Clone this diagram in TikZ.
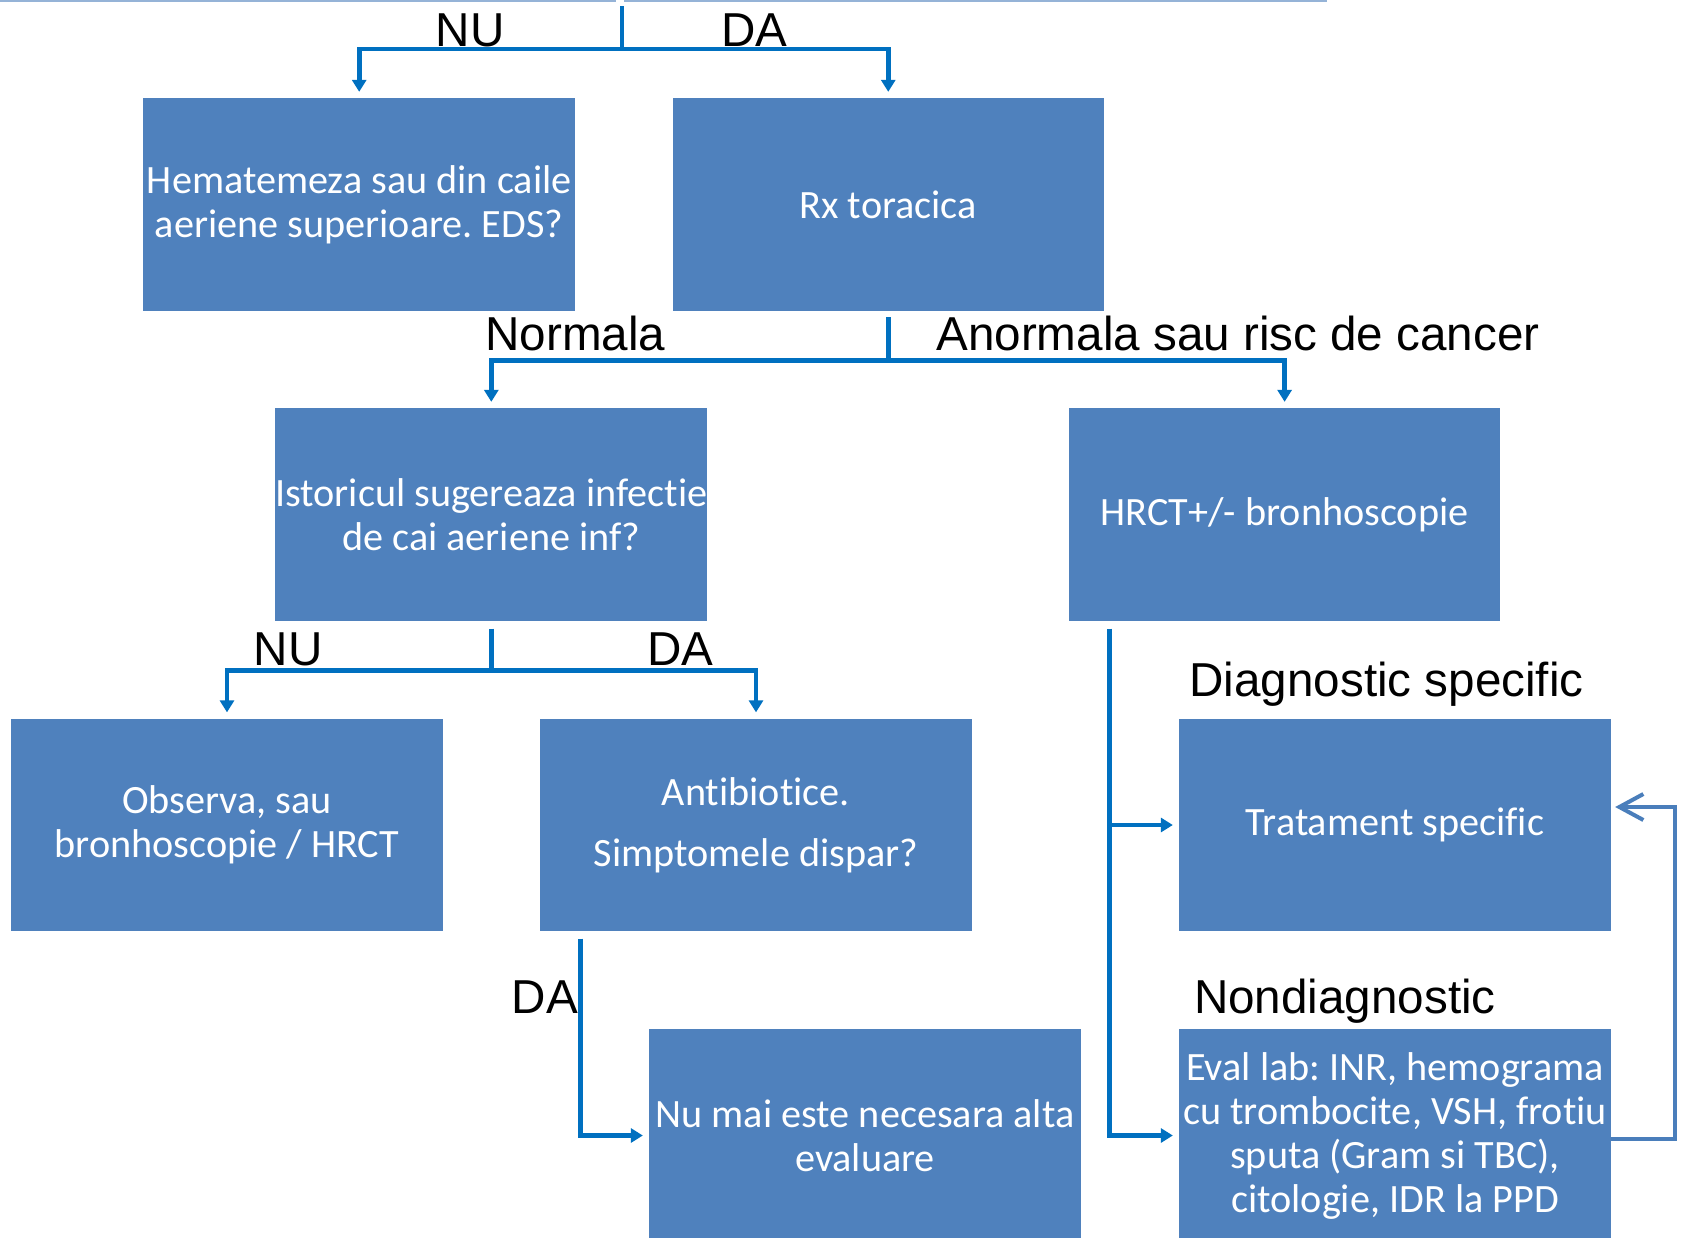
\documentclass[tikz,border=0pt]{standalone}
\usepackage{fontspec}
\setmainfont{Carlito}[Ligatures=NoCommon]
\newfontfamily\labelfont{Liberation Sans}[Ligatures=NoCommon]
\usetikzlibrary{arrows.meta}
\definecolor{boxblue}{HTML}{4F81BD}
\definecolor{linkblue}{HTML}{0070C0}
\definecolor{loopblue}{HTML}{4A7EBB}
\definecolor{ruleblue}{HTML}{95B3D7}
\frenchspacing

\begin{document}
\begin{tikzpicture}[x=0.5pt,y=-0.5pt,
  stepbox/.style={rectangle, fill=boxblue, minimum width=215.75pt,
    minimum height=106.25pt, inner sep=0pt, text=white, align=center,
    font=\fontsize{20.1}{22}\selectfont},
  link/.style={draw=linkblue, line width=2.3pt},
  linkarrow/.style={link, -{Triangle[length=6pt,width=7pt]}, shorten >=3pt},
  branchlabel/.style={anchor=base west, inner sep=0pt,
    font=\labelfont\fontsize{23.8}{28}\selectfont},
  loopback/.style={draw=loopblue, line width=2pt,
    -{Straight Barb[length=12pt,width=13pt]}}
]
\useasboundingbox (0,0) rectangle (1681,1237);

% thin rule along the top edge
\coordinate (ra) at (0,1);
\coordinate (rb) at (616,1);
\coordinate (rc) at (624,1);
\coordinate (rd) at (1327,1);
\draw[ruleblue, line width=1pt] (ra) -- (rb) (rc) -- (rd);

% boxes
\node[stepbox] (b1) at (359.2,204.5) {Hematemeza sau din caile\\aeriene superioare. EDS?};
\node[stepbox] (b2) at (888.25,204.5) {Rx toracica};
\node[stepbox] (b3) at (491.3,514.5) {Istoricul sugereaza infectie\\de cai aeriene inf?};
\node[stepbox] (b4) at (1284.6,514.5) {HRCT+/- bronhoscopie};
\node[stepbox] (b5) at (227,825) {Observa, sau\\bronhoscopie / HRCT};
\node[stepbox] (b6) at (756,825) {Antibiotice.\\[8.5pt]Simptomele dispar?};
\node[stepbox] (b7) at (865,1135.5) {Nu mai este necesara alta\\evaluare};
\node[stepbox] (b8) at (1395,825) {Tratament specific};
\node[stepbox] (b9) at (1395,1135.5) {Eval lab: INR, hemograma\\cu trombocite, VSH, frotiu\\sputa (Gram si TBC),\\citologie, IDR la PPD};

% first split
\coordinate (t0) at (622,6);
\coordinate (t1) at (622,49);
\draw[link] (t0) -- (t1);
\draw[linkarrow] (t1) -| (b1.north);
\draw[linkarrow] (t1) -| (b2.north);

% chest x-ray split
\coordinate (r0) at ([yshift=-3pt]b2.south);
\coordinate (r1) at ([yshift=-24.6pt]b2.south);
\draw[link] (r0) -- (r1);
\draw[linkarrow] (r1) -| (b3.north);
\draw[linkarrow] (r1) -| (b4.north);

% history split
\coordinate (s0) at ([yshift=-3.75pt]b3.south);
\coordinate (s1) at ([yshift=-24.6pt]b3.south);
\draw[link] (s0) -- (s1);
\draw[linkarrow] (s1) -| (b5.north);
\draw[linkarrow] (s1) -| (b6.north);

% HRCT outcomes
\coordinate (h0) at ([xshift=20.5pt,yshift=-3.75pt]b4.south west);
\draw[linkarrow] (h0) |- (b9.west);
\draw[linkarrow] (h0 |- b8.west) -- (b8.west);

% antibiotics outcome
\coordinate (d0) at ([xshift=20.25pt,yshift=-3.5pt]b6.south west);
\draw[linkarrow] (d0) |- (b7.west);

% loop back from lab work to treatment
\draw[loopback] ([yshift=-1.75pt]b9.east) -- ++(64,0) |- ([xshift=2pt,yshift=9pt]b8.east);

% branch labels
\node[branchlabel] (lnu1) at (435.4,46.5) {NU};
\node[branchlabel] (lda1) at (721,46.5) {DA};
\node[branchlabel] (lnorm) at (485,350) {Normala};
\node[branchlabel] (lanorm) at (936,350) {Anormala sau risc de cancer};
\node[branchlabel] (lnu2) at (253.5,665) {NU};
\node[branchlabel] (lda2) at (647,665) {DA};
\node[branchlabel] (ldiag) at (1189,696.7) {Diagnostic specific};
\node[branchlabel] (lnondiag) at (1193.7,1013.3) {Nondiagnostic};
\node[branchlabel] (lda3) at (511.3,1013) {DA};
\end{tikzpicture}
\end{document}
